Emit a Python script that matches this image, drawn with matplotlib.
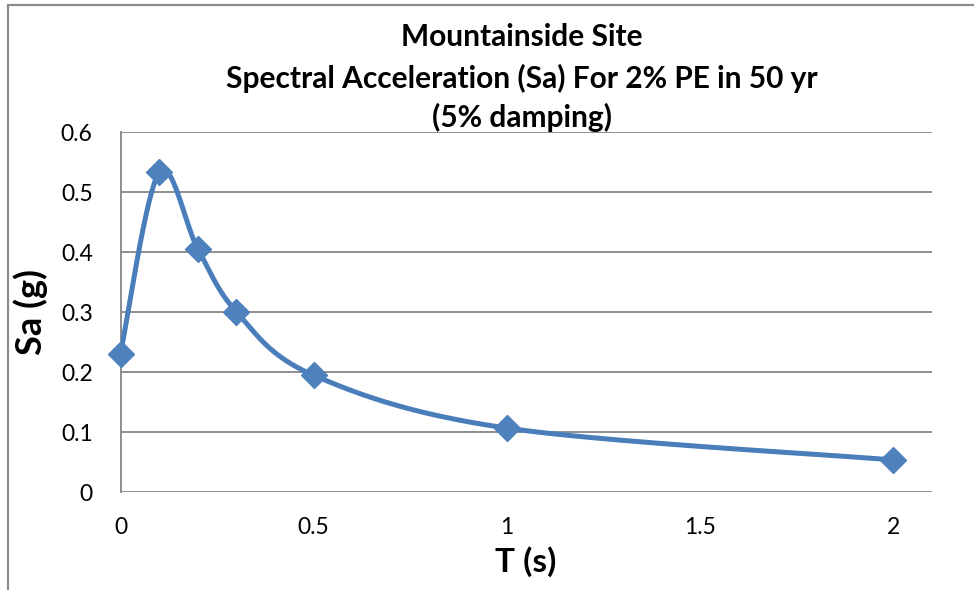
import numpy as np
import matplotlib
matplotlib.use("Agg")
import matplotlib.pyplot as plt
from matplotlib.patches import Rectangle

# Spectral acceleration for 2% PE in 50 yr, 5% damping
period_s = [0.0, 0.1, 0.2, 0.3, 0.5, 1.0, 2.0]
sa_g = [0.231, 0.533, 0.406, 0.301, 0.195, 0.107, 0.054]

x_ticks = [0, 0.5, 1, 1.5, 2]
x_tick_labels = ["0", "0.5", "1", "1.5", "2"]
y_ticks = [0, 0.1, 0.2, 0.3, 0.4, 0.5, 0.6]
y_tick_labels = ["0", "0.1", "0.2", "0.3", "0.4", "0.5", "0.6"]

title_lines = ["Mountainside Site",
               "Spectral Acceleration (Sa) For 2% PE in 50 yr",
               "(5% damping)"]

LINE_BLUE = "#4A7EBB"
MARK_BLUE = "#4F81BD"
GRID_GRAY = "#868686"


def smooth_curve(xs, ys, n=60):
    """Cardinal (Catmull-Rom) Bezier smoothing through every point."""
    pts = np.column_stack([xs, ys]).astype(float)
    out = [pts[0]]
    m = len(pts)
    t = np.linspace(0, 1, n)[1:, None]
    for i in range(m - 1):
        p0 = pts[i - 1] if i > 0 else pts[i]
        p1 = pts[i]
        p2 = pts[i + 1]
        p3 = pts[i + 2] if i + 2 < m else pts[i + 1]
        c1 = p1 + (p2 - p0) / 6.0
        c2 = p2 - (p3 - p1) / 6.0
        seg = ((1 - t) ** 3) * p1 + 3 * ((1 - t) ** 2) * t * c1 \
            + 3 * (1 - t) * t ** 2 * c2 + t ** 3 * p2
        out.extend(seg)
    out = np.array(out)
    return out[:, 0], out[:, 1]


plt.rcParams["font.family"] = ["Lato", "DejaVu Sans"]

W, H = 974, 590
fig = plt.figure(figsize=(W / 100, H / 100), dpi=100)
fig.patch.set_facecolor("white")

# chart frame (runs off the right and bottom edges)
fig.patches.append(Rectangle((8 / W, -0.05), 1.1, (H - 5) / H + 0.05,
                             transform=fig.transFigure, fill=False,
                             edgecolor="#8C8C8C", linewidth=1.6))

x0, x1 = 120.5, 931.7
y0, y1 = 492.3, 132.3
ax = fig.add_axes([x0 / W, (H - y0) / H, (x1 - x0) / W, (y0 - y1) / H])
ax.set_xlim(0, 2.1)
ax.set_ylim(0, 0.6)

ax.set_xticks(x_ticks)
ax.set_xticklabels(x_tick_labels)
ax.set_yticks(y_ticks)
ax.set_yticklabels(y_tick_labels)
ax.tick_params(axis="both", length=0, labelsize=16.5, colors="black")
ax.tick_params(axis="x", pad=18)
ax.tick_params(axis="y", pad=20)

ax.grid(axis="y", color=GRID_GRAY, linewidth=1.3)
ax.set_axisbelow(True)
for side in ("top", "right", "bottom"):
    ax.spines[side].set_visible(False)
ax.spines["left"].set_color(GRID_GRAY)
ax.spines["left"].set_linewidth(1.3)

sx, sy = smooth_curve(period_s, sa_g)
ax.plot(sx, sy, color=LINE_BLUE, linewidth=3.6, solid_capstyle="round", zorder=3)
ax.plot(period_s, sa_g, linestyle="none", marker="D", markersize=13.5,
        markerfacecolor=MARK_BLUE, markeredgecolor=MARK_BLUE, zorder=4,
        clip_on=False)

ax.set_xlabel("T (s)", fontsize=24, fontweight="bold", labelpad=6)
ax.set_ylabel("Sa (g)", fontsize=26, fontweight="bold", labelpad=9)

for ypix, line in zip([37, 78, 117], title_lines):
    fig.text(522 / W, 1 - ypix / H, line, ha="center", va="center",
             fontsize=21.5, fontweight="bold")

fig.savefig("out.png", dpi=100)
